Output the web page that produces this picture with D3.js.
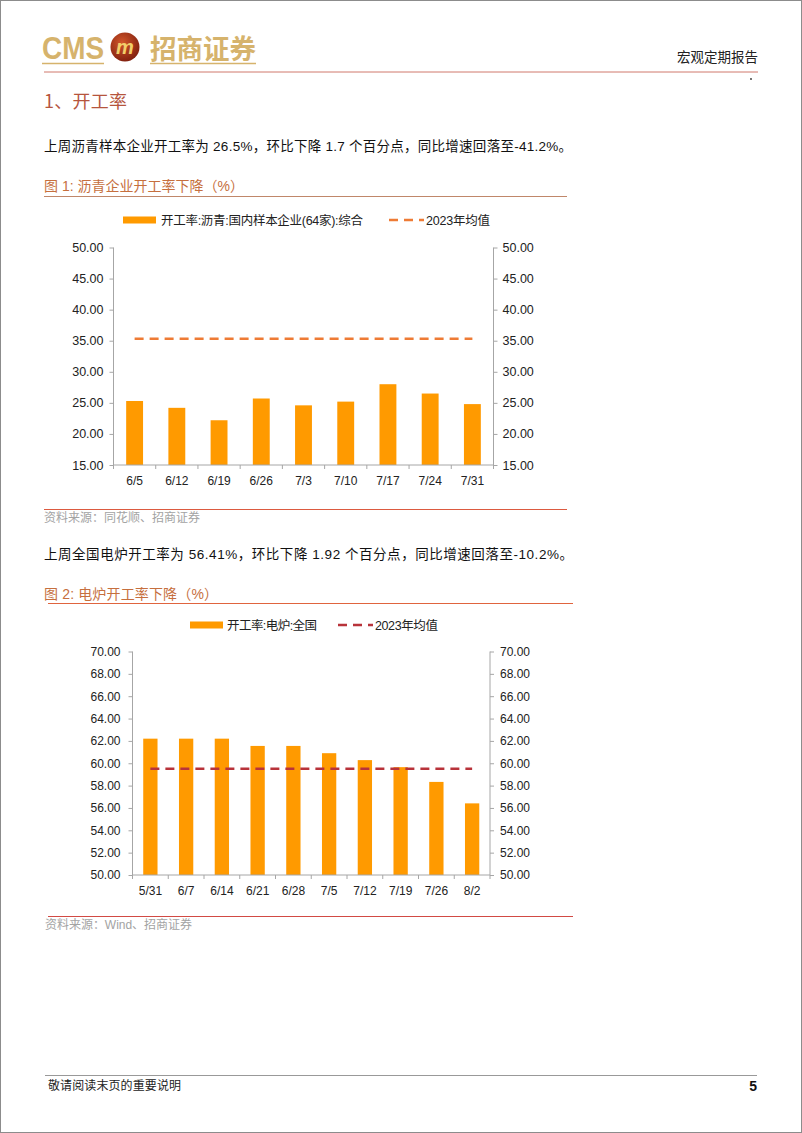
<!DOCTYPE html>
<html><head><meta charset="utf-8">
<script src="https://cdn.jsdelivr.net/npm/d3@7"></script>
<style>
html,body{margin:0;padding:0;background:#fff;}
svg{display:block;font-family:"Liberation Sans","Noto Sans CJK SC",sans-serif;}
</style></head>
<body>
<svg id="page" width="802" height="1133"></svg>
<script>
// ---- data ----
const cats1 = ["6/5","6/12","6/19","6/26","7/3","7/10","7/17","7/24","7/31"];
const vals1 = [25.3,24.2,22.2,25.7,24.6,25.2,28.0,26.5,24.8];
const avg1 = 35.3;
const ticks1 = [15,20,25,30,35,40,45,50];
const series1Name = "开工率:沥青:国内样本企业(64家):综合";

const cats2 = ["5/31","6/7","6/14","6/21","6/28","7/5","7/12","7/19","7/26","8/2"];
const vals2 = [62.2,62.2,62.2,61.55,61.55,60.9,60.28,59.65,58.33,56.41];
const avg2 = 59.5;
const ticks2 = [50,52,54,56,58,60,62,64,66,68,70];
const series2Name = "开工率:电炉:全国";
const avgName = "2023年均值";

const svg = d3.select("#page");
const CJK = "'Noto Sans CJK SC','Liberation Sans',sans-serif";

// page border
svg.append("rect").attr("x",0.5).attr("y",0.5).attr("width",801).attr("height",1132)
  .attr("fill","none").attr("stroke","#8c8c8c").attr("stroke-width",1);

// ---- header ----
const gold = "#d6b36c";
svg.append("text").attr("x",42).attr("y",59).attr("font-size",31).attr("font-weight","bold")
  .attr("fill",gold).attr("textLength",62).attr("lengthAdjust","spacingAndGlyphs").text("CMS");
const defs = svg.append("defs");
const rg = defs.append("radialGradient").attr("id","lg").attr("cx","40%").attr("cy","35%").attr("r","70%");
rg.append("stop").attr("offset","0%").attr("stop-color","#d2562a");
rg.append("stop").attr("offset","100%").attr("stop-color","#7e1e0e");
svg.append("circle").attr("cx",125).attr("cy",47).attr("r",14.5).attr("fill","url(#lg)");
svg.append("text").attr("x",125).attr("y",54).attr("text-anchor","middle").attr("font-size",20)
  .attr("font-weight","bold").attr("font-style","italic").attr("fill","#f2cf6a").text("m");
svg.append("text").attr("x",150).attr("y",59).attr("font-size",27).attr("font-weight","bold")
  .attr("fill",gold).attr("font-family",CJK).attr("textLength",106).attr("lengthAdjust","spacingAndGlyphs").text("招商证券");
svg.append("line").attr("x1",42).attr("x2",104).attr("y1",63.5).attr("y2",63.5).attr("stroke",gold).attr("stroke-width",1.5);
svg.append("line").attr("x1",150).attr("x2",256).attr("y1",63.5).attr("y2",63.5).attr("stroke",gold).attr("stroke-width",1.5);
svg.append("text").attr("x",758).attr("y",62).attr("text-anchor","end").attr("font-size",13.5)
  .attr("font-family",CJK).attr("fill","#222").text("宏观定期报告");
svg.append("line").attr("x1",44).attr("x2",758).attr("y1",72).attr("y2",72).attr("stroke","#d0786c").attr("stroke-width",1);
svg.append("circle").attr("cx",751).attr("cy",79).attr("r",0.9).attr("fill","#333");

// section title
svg.append("text").attr("x",44).attr("y",108).attr("font-size",18).attr("fill","#b6553d")
  .attr("font-family",CJK).attr("textLength",83).attr("lengthAdjust","spacing").text("1、开工率");

// paragraphs
svg.append("text").attr("x",44).attr("y",151).attr("font-size",13.5).attr("fill","#111")
  .attr("textLength",528).attr("lengthAdjust","spacing")
  .text("上周沥青样本企业开工率为 26.5%，环比下降 1.7 个百分点，同比增速回落至-41.2%。");
svg.append("text").attr("x",44).attr("y",559).attr("font-size",13.5).attr("fill","#111")
  .attr("textLength",529).attr("lengthAdjust","spacing")
  .text("上周全国电炉开工率为 56.41%，环比下降 1.92 个百分点，同比增速回落至-10.2%。");

// figure titles
svg.append("text").attr("x",44).attr("y",191).attr("font-size",14).attr("fill","#c66f3e")
  .attr("textLength",200).attr("lengthAdjust","spacing").text("图 1:  沥青企业开工率下降（%）");
svg.append("line").attr("x1",44).attr("x2",567).attr("y1",196.5).attr("y2",196.5).attr("stroke","#c0876a").attr("stroke-width",1.2);
svg.append("text").attr("x",44).attr("y",599).attr("font-size",14).attr("fill","#c66f3e")
  .attr("textLength",174).attr("lengthAdjust","spacing").text("图 2:  电炉开工率下降（%）");
svg.append("line").attr("x1",48).attr("x2",573).attr("y1",603.5).attr("y2",603.5).attr("stroke","#e0643e").attr("stroke-width",1.2);

// sources
svg.append("line").attr("x1",44).attr("x2",567).attr("y1",509.5).attr("y2",509.5).attr("stroke","#dc5a40").attr("stroke-width",1.2);
svg.append("text").attr("x",44).attr("y",522).attr("font-size",12).attr("fill","#a3a3a3")
  .attr("font-family",CJK).attr("textLength",156).attr("lengthAdjust","spacing").text("资料来源：同花顺、招商证券");
svg.append("line").attr("x1",48).attr("x2",573).attr("y1",916.5).attr("y2",916.5).attr("stroke","#d24a44").attr("stroke-width",1.2);
svg.append("text").attr("x",45).attr("y",929).attr("font-size",12).attr("fill","#a3a3a3")
  .attr("textLength",147).attr("lengthAdjust","spacing").text("资料来源：Wind、招商证券");

// footer
svg.append("line").attr("x1",45).attr("x2",757).attr("y1",1075.5).attr("y2",1075.5).attr("stroke","#999").attr("stroke-width",1);
svg.append("text").attr("x",48).attr("y",1090).attr("font-size",12).attr("fill","#222")
  .attr("font-family",CJK).attr("textLength",133).attr("lengthAdjust","spacing").text("敬请阅读末页的重要说明");
svg.append("text").attr("x",757).attr("y",1091).attr("text-anchor","end").attr("font-size",14)
  .attr("font-weight","bold").attr("fill","#111").text("5");

// ---- chart builder ----
function chart(o){
  const g = svg.append("g");
  const x = d3.scaleBand().domain(o.cats).range([o.left,o.right]).padding(0);
  const y = d3.scaleLinear().domain(o.domain).range([o.bottom,o.top]);
  const axisColor = "#a6a6a6";
  // bars
  g.selectAll("rect.bar").data(o.vals).join("rect").attr("class","bar")
    .attr("x",(d,i)=>x(o.cats[i])+x.bandwidth()*0.3)
    .attr("width",x.bandwidth()*0.4)
    .attr("y",d=>y(d)).attr("height",d=>y(o.domain[0])-y(d))
    .attr("fill","#ff9a00");
  // average dashed line
  const line = d3.line().x(d=>x(d)+x.bandwidth()/2).y(()=>y(o.avg));
  g.append("path").attr("d",line(o.cats)).attr("fill","none").attr("stroke",o.avgColor)
    .attr("stroke-width",2.5).attr("stroke-dasharray","9,6");
  // left axis
  const la = g.append("g").attr("transform",`translate(${o.left},0)`)
    .call(d3.axisLeft(y).tickValues(o.ticks).tickFormat(d3.format(".2f")).tickSize(4).tickPadding(o.lpad));
  const ra = g.append("g").attr("transform",`translate(${o.right},0)`)
    .call(d3.axisRight(y).tickValues(o.ticks).tickFormat(d3.format(".2f")).tickSize(4).tickPadding(o.rpad));
  [la,ra].forEach(a=>{
    a.select(".domain").attr("stroke",axisColor).attr("d",`M0,${o.top}V${o.bottom}`);
    a.selectAll(".tick line").attr("stroke",axisColor);
    a.selectAll(".tick text").attr("fill","#222").attr("font-size",o.fs)
      .attr("font-family","'Liberation Sans',sans-serif");
  });
  // bottom axis
  const ba = g.append("g").attr("transform",`translate(0,${o.bottom})`)
    .call(d3.axisBottom(x).tickSize(0).tickPadding(o.bpad));
  ba.select(".domain").attr("stroke",axisColor).attr("d",`M${o.left},0H${o.right}`);
  ba.selectAll(".tick text").attr("fill","#222").attr("font-size",12)
    .attr("font-family","'Liberation Sans',sans-serif");
  const bounds = o.cats.map(c=>x(c)).concat([x(o.cats[o.cats.length-1])+x.bandwidth()]);
  ba.selectAll("line.bt").data(bounds).join("line").attr("class","bt")
    .attr("x1",d=>d).attr("x2",d=>d).attr("y1",0).attr("y2",4).attr("stroke",axisColor);
  // legend
  const lg = g.append("g");
  lg.append("rect").attr("x",o.leg.r0).attr("y",o.leg.y-3.5).attr("width",o.leg.r1-o.leg.r0).attr("height",7).attr("fill","#ff9a00");
  lg.append("text").attr("x",o.leg.t0).attr("y",o.leg.y+4.5).attr("font-size",12.5).attr("fill","#222")
    .attr("textLength",o.leg.tw).attr("lengthAdjust","spacing").text(o.name);
  lg.append("line").attr("x1",o.leg.d0).attr("x2",o.leg.d1).attr("y1",o.leg.y).attr("y2",o.leg.y)
    .attr("stroke",o.avgColor).attr("stroke-width",2.5).attr("stroke-dasharray","9,6");
  lg.append("text").attr("x",o.leg.a0).attr("y",o.leg.y+4.5).attr("font-size",12.5).attr("fill","#222")
    .attr("textLength",o.leg.aw).attr("lengthAdjust","spacing").text(avgName);
}

chart({cats:cats1, vals:vals1, avg:avg1, ticks:ticks1, domain:[15,50], name:series1Name,
  left:113.5, right:493.5, top:247.5, bottom:465, avgColor:"#ee7b35", fs:12.5, lpad:6, rpad:5, bpad:11,
  leg:{y:220, r0:123, r1:156, t0:161, tw:202, d0:389, d1:424, a0:426, aw:64}});

chart({cats:cats2, vals:vals2, avg:avg2, ticks:ticks2, domain:[50,70], name:series2Name,
  left:132.5, right:490, top:651.5, bottom:875, avgColor:"#b8333a", fs:12, lpad:8, rpad:6, bpad:11,
  leg:{y:625, r0:190, r1:223, t0:227, tw:90, d0:338, d1:373, a0:375, aw:63}});
</script>
</body></html>
